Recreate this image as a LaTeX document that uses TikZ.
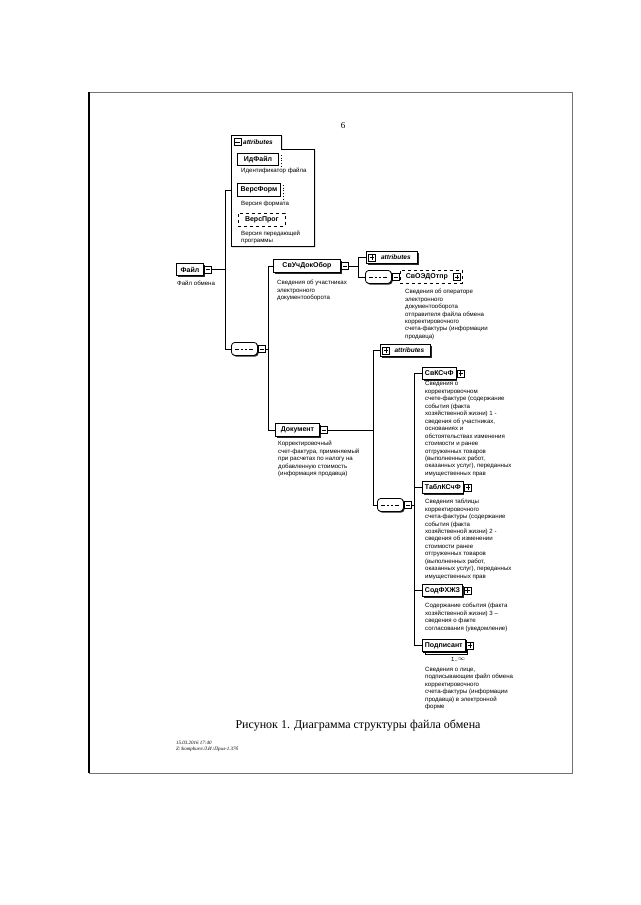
\documentclass[tikz,border=0pt]{standalone}
\usepackage{fontspec}
\setmainfont{Liberation Serif}
\newfontfamily\dsans{Liberation Sans}
\usetikzlibrary{shadows,calc}
\begin{document}
\begin{tikzpicture}[x=1pt,y=-1pt,
 lbl/.style={draw, line width=0.9pt, fill=white, inner xsep=2.5pt, inner ysep=0pt, minimum height=12pt, anchor=north west, font=\dsans\bfseries\fontsize{7}{8}\selectfont},
 shd/.style={drop shadow={shadow xshift=1.2pt, shadow yshift=-1.2pt, opacity=1, fill=black!85}},
 optlbl/.style={lbl, dashed, line width=0.7pt},
 ico/.style={draw, line width=0.6pt, fill=white, minimum size=7pt, inner sep=0pt, anchor=west},
 minusico/.style={ico, path picture={\draw[line width=0.5pt] ([xshift=1.3pt]path picture bounding box.west) -- ([xshift=-1.3pt]path picture bounding box.east);}},
 plusico/.style={ico, path picture={\draw[line width=0.5pt] ([xshift=1.3pt]path picture bounding box.west) -- ([xshift=-1.3pt]path picture bounding box.east) ([yshift=1.3pt]path picture bounding box.south) -- ([yshift=-1.3pt]path picture bounding box.north);}},
 desc/.style={anchor=north west, inner sep=0pt, align=left, font=\dsans\fontsize{6.1}{7.45}\selectfont},
 seqn/.style={draw, line width=0.8pt, fill=white, rounded corners=3.5pt, minimum width=26pt, minimum height=13pt, inner sep=0pt, anchor=north west, shd,
   path picture={\draw[sharp corners, line width=0.6pt] ([xshift=4pt]path picture bounding box.west) -- ([xshift=-4pt]path picture bounding box.east);
     \foreach \d in {-4,0,4}{\fill[sharp corners] ([xshift=\d pt]path picture bounding box.center) ++(-1pt,-1pt) rectangle ++(2pt,2pt);}}},
 attrbox/.style={draw, fill=white, shd, line width=0.8pt, inner xsep=2pt, inner ysep=0pt, minimum height=12pt, anchor=north west, font=\dsans\bfseries\itshape\fontsize{6.5}{7}\selectfont},
 conn/.style={line width=0.8pt},
]
\fill[white] (0,0) rectangle (640,905);
\useasboundingbox (0,0) rectangle (640,905);

% page frame
\draw[line width=0.6pt, black!55] (89,92) -- (572,92) -- (572,773) -- (89,773);
\draw[line width=1.2pt] (89,92) -- (89,773);

\node[font=\fontsize{9}{10}\selectfont] (pnum) at (343,126) {6};

% ---- top attributes group
\draw[line width=0.8pt, fill=white, drop shadow={shadow xshift=1pt, shadow yshift=-1pt, opacity=1, fill=black!85}]
  (231,135) -- (281,135) -- (281,149) -- (314,149) -- (314,246) -- (231,246) -- cycle;
\coordinate (a1l) at (231,190);
\node[minusico, anchor=center] (a1ico) at (237.5,142) {};
\node[font=\dsans\bfseries\itshape\fontsize{6.5}{7}\selectfont, anchor=west, inner sep=0pt] (a1txt) at (243,142) {attributes};

\node[lbl, minimum width=41pt] (idf) at (237,153) {ИдФайл};
\draw[dotted, line width=0.7pt] ([xshift=2.5pt,yshift=-2pt]idf.north east) -- ([xshift=2.5pt,yshift=-2pt]idf.south east);
\node[desc] (idfd) at (241,167.5) {Идентификатор файла};

\node[lbl, minimum width=43pt, minimum height=13pt] (vf) at (237,183) {ВерсФорм};
\draw[dotted, line width=0.7pt] ([xshift=2.5pt,yshift=-2pt]vf.north east) -- ([xshift=2.5pt,yshift=-2pt]vf.south east);
\node[desc] (vfd) at (241,201) {Версия формата};

\node[optlbl, minimum width=47pt, minimum height=13pt] (vp) at (238,213) {ВерсПрог};
\node[desc] (vpd) at (241,230.5) {Версия передающей\\программы};

% ---- root
\node[lbl, shd, minimum width=27pt] (file) at (176,263) {Файл};
\node[minusico] (fileico) at ([xshift=0.5pt]file.east) {};
\node[desc] (filed) at (177,281) {Файл обмена};

\node[seqn] (seq1) at (231,342) {};
\node[minusico] (seq1ico) at ([xshift=0.5pt]seq1.east) {};

\coordinate (b1) at (225,0);
\draw[conn] (a1l -| b1) -- (seq1.west -| b1);
\draw[conn] (a1l -| b1) -- (a1l);
\draw[conn] (fileico.east) -- (fileico.east -| b1);
\draw[conn] (seq1.west -| b1) -- (seq1.west);

% ---- СвУчДокОбор
\node[lbl, shd, minimum width=67pt, minimum height=13pt] (svuch) at (273,259) {СвУчДокОбор};
\node[minusico] (svuchico) at ([xshift=0.5pt]svuch.east) {};
\node[desc] (svuchd) at (277,280) {Сведения об участниках\\электронного\\документооборота};

\node[lbl, shd, minimum width=44pt, minimum height=13pt] (doc) at (275,423) {Документ};
\node[minusico] (docico) at ([xshift=0.5pt]doc.east) {};
\node[desc] (docd) at (278,441) {Корректировочный\\счет-фактура, применяемый\\при расчетах по налогу на\\добавленную стоимость\\(информация продавца)};

\coordinate (b2) at (268,0);
\draw[conn] (seq1ico.east) -- (seq1ico.east -| b2);
\draw[conn] (svuch.west -| b2) -- (doc.west -| b2);
\draw[conn] (svuch.west -| b2) -- (svuch.west);
\draw[conn] (doc.west -| b2) -- (doc.west);

\node[attrbox, minimum width=51pt] (attr2) at (366,251) {\hspace*{8pt}attributes};
\node[plusico] (attr2ico) at ([xshift=2pt]attr2.west) {};
\node[seqn] (seq2) at (365,270) {};
\node[minusico] (seq2ico) at ([xshift=0.5pt]seq2.east) {};
\node[optlbl, minimum width=62pt, minimum height=13pt] (svoed) at (400,270) {СвОЭДОтпр\hspace*{9pt}};
\node[plusico, anchor=east] (svoedico) at ([xshift=-2pt]svoed.east) {};
\node[desc] (svoedd) at (405,289) {Сведения об операторе\\электронного\\документооборота\\отправителя файла обмена\\корректировочного\\счета-фактуры (информации\\продавца)};

\coordinate (b3) at (358,0);
\draw[conn] (svuchico.east) -- (svuchico.east -| b3);
\draw[conn] (attr2.west -| b3) -- (seq2.west -| b3);
\draw[conn] (attr2.west -| b3) -- (attr2.west);
\draw[conn] (seq2.west -| b3) -- (seq2.west);
\draw[conn, dashed] (seq2ico.east) -- (svoed.west);

% ---- Документ children
\node[attrbox, minimum width=50pt] (attr3) at (380,344) {\hspace*{8pt}attributes};
\node[plusico] (attr3ico) at ([xshift=2pt]attr3.west) {};
\node[seqn] (seq3) at (377,498) {};
\node[minusico] (seq3ico) at ([xshift=0.5pt]seq3.east) {};

\coordinate (b4) at (373,0);
\draw[conn] (docico.east) -- (docico.east -| b4);
\draw[conn] (attr3.west -| b4) -- (seq3.west -| b4);
\draw[conn] (attr3.west -| b4) -- (attr3.west);
\draw[conn] (seq3.west -| b4) -- (seq3.west);

\node[lbl, shd] (svk) at (422,367) {СвКСчФ};
\node[plusico] (svkico) at ([xshift=0.5pt]svk.east) {};
\node[desc] (svkd) at (425,381.5) {Сведения о\\корректировочном\\счете-фактуре (содержание\\события (факта\\хозяйственной жизни) 1 -\\сведения об участниках,\\основаниях и\\обстоятельствах изменения\\стоимости и ранее\\отгруженных товаров\\(выполненных работ,\\оказанных услуг), переданных\\имущественных прав};

\node[lbl, shd] (tabl) at (422,481) {ТаблКСчФ};
\node[plusico] (tablico) at ([xshift=0.5pt]tabl.east) {};
\node[desc] (tabld) at (425,499) {Сведения таблицы\\корректировочного\\счета-фактуры (содержание\\события (факта\\хозяйственной жизни) 2 -\\сведения об изменении\\стоимости ранее\\отгруженных товаров\\(выполненных работ,\\оказанных услуг), переданных\\имущественных прав};

\node[lbl, shd] (sod) at (422,584) {СодФХЖЗ};
\node[plusico] (sodico) at ([xshift=0.5pt]sod.east) {};
\node[desc] (sodd) at (425,603) {Содержание события (факта\\хозяйственной жизни) 3 –\\сведения о факте\\согласования (уведомление)};

\node[lbl, double copy shadow={shadow xshift=1.3pt, shadow yshift=-1.3pt}] (podp) at (422,639) {Подписант};
\node[plusico] (podpico) at ([xshift=0.5pt]podp.east) {};
\node[font=\dsans\fontsize{6}{7}\selectfont, anchor=west, inner sep=0pt] (podpm) at (451,659) {1..\raisebox{0.3pt}{$\infty$}};
\node[desc] (podpd) at (425,667) {Сведения о лице,\\подписывающем файл обмена\\корректировочного\\счета-фактуры (информации\\продавца) в электронной\\форме};

\coordinate (b5) at (414,0);
\draw[conn] (seq3ico.east) -- (seq3ico.east -| b5);
\draw[conn] (svk.west -| b5) -- (podp.west -| b5);
\foreach \n in {svk,tabl,sod,podp}{\draw[conn] (\n.west -| b5) -- (\n.west);}

% ---- caption
\node[font=\fontsize{12}{14}\selectfont] (cap) at (358,725) {Рисунок 1. Диаграмма структуры файла обмена};
\node[anchor=west, font=\itshape\fontsize{5}{6.5}\selectfont, inner sep=0pt, align=left] (stamp) at (176,746.5) {15.03.2016 17:40\\Z:\textbackslash kompburo\textbackslash Л.И.\textbackslash Прил-1.37б};
\end{tikzpicture}
\end{document}
